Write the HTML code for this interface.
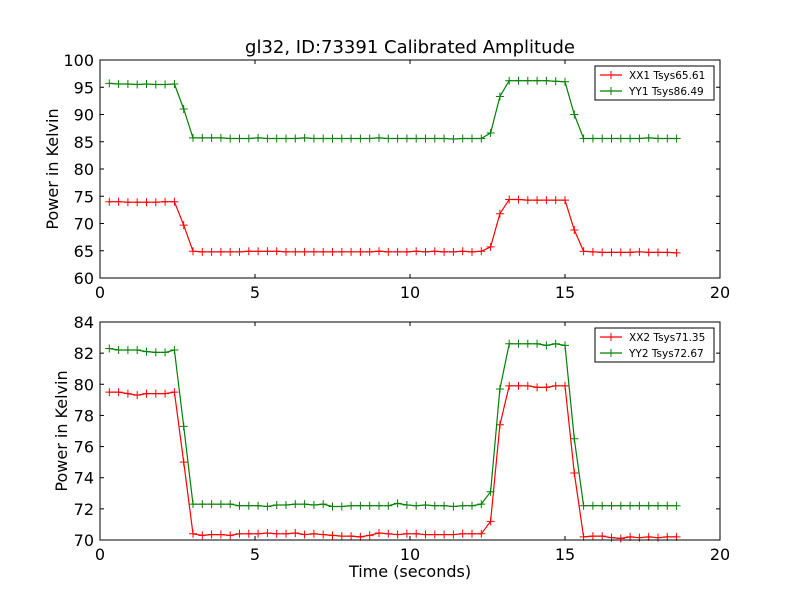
<!DOCTYPE html>
<html><head><meta charset="utf-8"><style>
body{margin:0;background:#fff;}
svg{display:block;font-family:"DejaVu Sans","Liberation Sans",sans-serif;}
</style></head><body>
<svg id="chart" width="800" height="600" viewBox="0 0 800 600"></svg>
<script>
const times = Array.from({length:62},(_,i)=>+(0.3+0.3*i).toFixed(1));
const xx1 = [74,74,73.9,73.9,73.9,73.9,74,74,69.7,64.9,64.8,64.8,64.8,64.8,64.8,64.9,64.9,64.9,64.9,64.8,64.8,64.8,64.8,64.8,64.8,64.8,64.8,64.8,64.8,64.9,64.8,64.8,64.8,64.9,64.8,64.9,64.8,64.8,64.9,64.8,64.9,65.7,71.8,74.4,74.4,74.3,74.3,74.3,74.3,74.3,68.8,64.9,64.8,64.7,64.7,64.7,64.7,64.8,64.7,64.7,64.7,64.6];
const yy1 = [95.7,95.6,95.6,95.5,95.6,95.5,95.5,95.6,91,85.7,85.7,85.7,85.7,85.6,85.6,85.6,85.7,85.6,85.6,85.6,85.6,85.7,85.6,85.6,85.6,85.6,85.6,85.6,85.6,85.7,85.6,85.6,85.6,85.6,85.6,85.6,85.6,85.5,85.6,85.6,85.6,86.6,93.3,96.2,96.2,96.2,96.2,96.2,96.1,96.0,90,85.6,85.6,85.6,85.6,85.6,85.6,85.6,85.7,85.6,85.6,85.6];
const xx2 = [79.5,79.5,79.4,79.3,79.4,79.4,79.4,79.5,75,70.4,70.3,70.35,70.35,70.3,70.4,70.4,70.4,70.45,70.4,70.4,70.45,70.35,70.4,70.35,70.3,70.25,70.25,70.2,70.3,70.45,70.4,70.35,70.4,70.4,70.35,70.35,70.35,70.35,70.4,70.4,70.4,71.2,77.4,79.9,79.9,79.9,79.8,79.8,79.9,79.9,74.3,70.2,70.25,70.25,70.15,70.1,70.2,70.15,70.2,70.15,70.2,70.2];
const yy2 = [82.3,82.2,82.2,82.2,82.1,82.05,82.05,82.2,77.3,72.3,72.3,72.3,72.3,72.3,72.2,72.2,72.2,72.15,72.25,72.25,72.3,72.3,72.25,72.3,72.15,72.15,72.2,72.2,72.2,72.2,72.2,72.35,72.25,72.2,72.25,72.2,72.2,72.15,72.2,72.2,72.3,73.1,79.7,82.6,82.6,82.6,82.6,82.5,82.6,82.5,76.5,72.2,72.2,72.2,72.2,72.2,72.2,72.2,72.2,72.2,72.2,72.2];
const xTicks = [0,5,10,15,20];
const yTicksTop = [60,65,70,75,80,85,90,95,100];
const yTicksBot = [70,72,74,76,78,80,82,84];
const legendTop = ["XX1 Tsys65.61","YY1 Tsys86.49"];
const legendBot = ["XX2 Tsys71.35","YY2 Tsys72.67"];

const NS="http://www.w3.org/2000/svg";
const svg=document.getElementById('chart');
function el(tag,attrs,parent,text){const e=document.createElementNS(NS,tag);for(const k in attrs)e.setAttribute(k,attrs[k]);if(text!==undefined)e.textContent=text;(parent||svg).appendChild(e);return e;}

function panel(name,top,bot,ymin,ymax,yTicks,series,colors,labels,showXLabel,ylabOff){
  const L=100,R=720;
  const g=el('g',{});
  
  
  const sx=v=>L+(v-0)/(20-0)*(R-L);
  const sy=v=>bot-(v-ymin)/(ymax-ymin)*(bot-top);
  xTicks.forEach(t=>{
    const x=sx(t);
    el('line',{x1:x,x2:x,y1:bot,y2:bot-4,stroke:'#000'},g);
    el('line',{x1:x,x2:x,y1:top,y2:top+4,stroke:'#000'},g);
    const tx=el('text',{x:x,y:bot+20,'text-anchor':'middle','font-size':16},g,String(t));
    
    
  });
  yTicks.forEach(t=>{
    const y=sy(t);
    el('line',{x1:L,x2:L+4,y1:y,y2:y,stroke:'#000'},g);
    el('line',{x1:R,x2:R-4,y1:y,y2:y,stroke:'#000'},g);
    const tx=el('text',{x:L-6,y:y+6,'text-anchor':'end','font-size':16},g,String(t));
    
    
  });
  series.forEach((s,si)=>{
    const pts=times.map((t,i)=>sx(t).toFixed(1)+','+sy(s[i]).toFixed(1)).join(' ');
    const pl=el('polyline',{points:pts,fill:'none',stroke:colors[si],'stroke-width':1.2},g);
    
    
    times.forEach((t,i)=>{
      const x=sx(t),y=sy(s[i]);
      el('path',{d:`M${x-4},${y}H${x+4}M${x},${y-4}V${y+4}`,stroke:colors[si],'stroke-width':1},g);
    });
  });
  const fr=el('rect',{x:L,y:top,width:R-L,height:bot-top,fill:'none',stroke:'#000','stroke-width':1},g);
  
  
  const yl=el('text',{x:0,y:0,'font-size':16,'text-anchor':'middle',transform:`translate(${L-ylabOff},${(top+bot)/2}) rotate(-90)`},g,'Power in Kelvin');
  
  
  const lg=el('g',{},g);
  
  
  el('rect',{x:595,y:top+6,width:119,height:34,fill:'#fff',stroke:'#000','stroke-width':1},lg);
  labels.forEach((lb,i)=>{
    const y=top+15+i*16;
    el('line',{x1:600,x2:622,y1:y,y2:y,stroke:colors[i],'stroke-width':1.2},lg);
    el('path',{d:`M607,${y}H615M611,${y-4}V${y+4}`,stroke:colors[i]},lg);
    const t=el('text',{x:629,y:y+4,'font-size':10.5},lg,lb);
    
    
  });
  if(showXLabel){
    const xl=el('text',{x:(L+R)/2,y:bot+37,'text-anchor':'middle','font-size':16},g,'Time (seconds)');
    
    
  }
}
const title=el('text',{x:410,y:53,'text-anchor':'middle','font-size':18},svg,'gl32, ID:73391 Calibrated Amplitude');


panel('top-panel',60,278,60,100,yTicksTop,[xx1,yy1],['#ff0000','#008000'],legendTop,false,42);
panel('bottom-panel',322,540,70,84,yTicksBot,[xx2,yy2],['#ff0000','#008000'],legendBot,true,33);
</script>
</body></html>
